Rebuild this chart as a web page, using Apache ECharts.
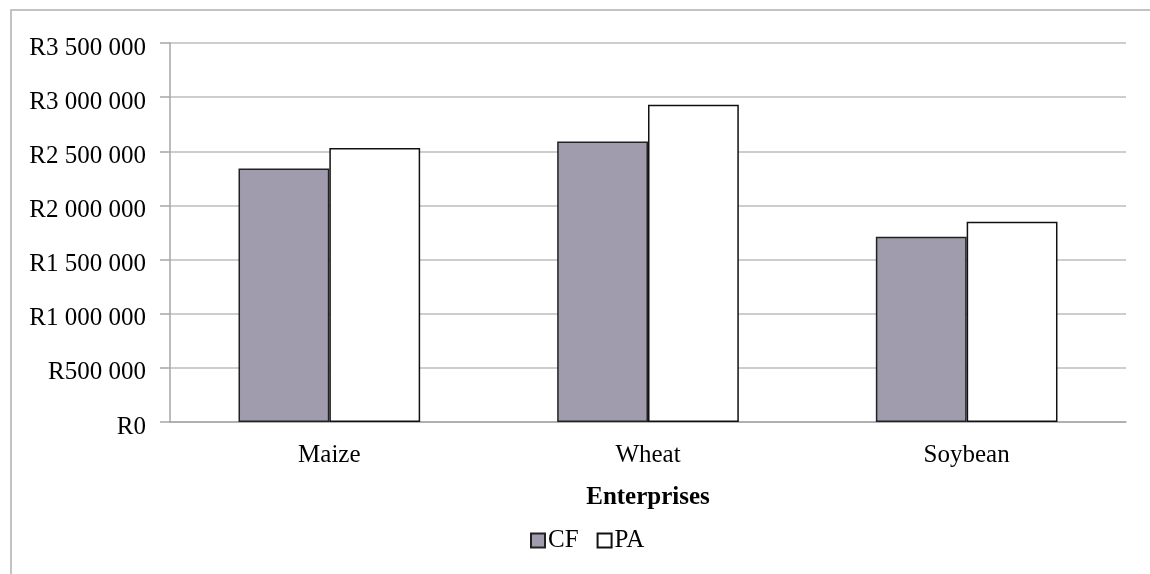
<!DOCTYPE html>
<html>
<head>
<meta charset="utf-8">
<title>Enterprises</title>
<script src="https://cdn.jsdelivr.net/npm/echarts@6/dist/echarts.min.js"></script>
<style>
  html, body { margin: 0; padding: 0; background: #fff; }
  #chart { width: 1150px; height: 574px; }
</style>
</head>
<body>
<div id="chart"></div>
<script>
// Enterprise values in rand
const categories = ['Maize', 'Wheat', 'Soybean'];
const cfValues = [2340000, 2590000, 1710000];
const paValues = [2530000, 2930000, 1850000];
const seriesNames = ['CF', 'PA'];

const serif = '"Liberation Serif", "Times New Roman", serif';

function formatRand(v) {
  if (v === 0) return 'R0';
  const s = String(Math.round(v)).replace(/\B(?=(\d{3})+(?!\d))/g, ' ');
  return 'R' + s;
}

const chart = echarts.init(document.getElementById('chart'));
chart.setOption({
  animation: false,
  backgroundColor: '#ffffff',
  graphic: [{
    type: 'rect',
    shape: { x: 11, y: 10, width: 1160, height: 600 },
    style: { fill: 'none', stroke: '#b0b0b0', lineWidth: 1.5 },
    silent: true
  }],
  grid: { left: 170, right: 24, top: 43, bottom: 152 },
  legend: {
    data: seriesNames,
    bottom: 16,
    left: 525,
    itemWidth: 14,
    itemHeight: 14,
    itemGap: 18,
    icon: 'rect',
    textStyle: { fontFamily: serif, fontSize: 25, color: '#000', padding: [0, 0, 0, -2] }
  },
  xAxis: {
    type: 'category',
    data: categories,
    name: 'Enterprises',
    nameLocation: 'middle',
    nameGap: 63,
    nameTextStyle: { fontFamily: serif, fontSize: 25, fontWeight: 'bold', color: '#000' },
    axisLine: { lineStyle: { color: '#a6a6a6', width: 1.5 } },
    axisTick: { show: false },
    axisLabel: { fontFamily: serif, fontSize: 25, color: '#000', margin: 21 }
  },
  yAxis: {
    type: 'value',
    min: 0,
    max: 3500000,
    interval: 500000,
    axisLine: { show: true, lineStyle: { color: '#a6a6a6', width: 1.5 } },
    axisTick: { show: true, length: 10, lineStyle: { color: '#a6a6a6', width: 1.5 } },
    splitLine: { lineStyle: { color: '#bdbdbd', width: 1.5 } },
    axisLabel: {
      fontFamily: serif, fontSize: 25, color: '#000', margin: 24,
      verticalAlign: 'top', lineHeight: 10, formatter: formatRand
    }
  },
  series: [
    {
      name: 'CF',
      type: 'bar',
      data: cfValues,
      barGap: '0%',
      barCategoryGap: '43%',
      itemStyle: { color: '#a19bae', borderColor: '#222', borderWidth: 1.5 }
    },
    {
      name: 'PA',
      type: 'bar',
      data: paValues,
      itemStyle: { color: '#ffffff', borderColor: '#111', borderWidth: 1.5 }
    }
  ]
});
</script>
</body>
</html>
